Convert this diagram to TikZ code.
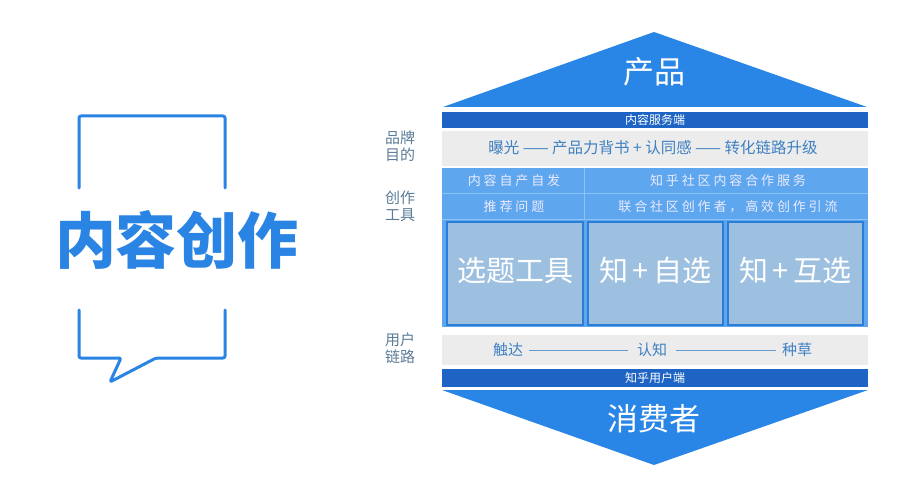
\documentclass[tikz,border=0pt]{standalone}
\usepackage{fontspec}
\setmainfont{Noto Sans CJK SC}
\newfontfamily\cjk{Noto Sans CJK SC}
\newfontfamily\cjkbold{Noto Sans CJK SC Black}
\definecolor{triblue}{HTML}{2A86E6}
\definecolor{darkband}{HTML}{1D64C4}
\definecolor{midblue}{HTML}{5EA6EE}
\definecolor{rowline}{HTML}{8CC2F5}
\definecolor{boxfill}{HTML}{9DC0E0}
\definecolor{boxedge}{HTML}{2A7ED8}
\definecolor{grayband}{HTML}{ECECEC}
\definecolor{graytext}{HTML}{3F80C2}
\definecolor{labeltext}{HTML}{5C7C98}
\definecolor{bubble}{HTML}{2A84E4}
\tikzset{
  bandtext/.style={text=white, font=\cjk\fontsize{12}{12}\selectfont, inner sep=0pt},
  rowtext/.style={text=white!92!blue, font=\cjk\fontsize{13}{13}\selectfont\addfontfeature{LetterSpace=22}, inner sep=0pt},
  bigtext/.style={text=white, font=\cjk\fontsize{29}{29}\selectfont, inner sep=0pt},
  graytxt/.style={text=graytext, font=\cjk\fontsize{15.5}{15.5}\selectfont, inner sep=0pt},
  sidelabel/.style={text=labeltext, font=\cjk\fontsize{15}{17}\selectfont, align=center, inner sep=0pt},
  toolbox/.style={draw=boxedge, line width=2pt, fill=boxfill},
}
\begin{document}
\begin{tikzpicture}[x=1pt,y=-1pt]
\useasboundingbox[fill=white] (0,0) rectangle (922,500);

% speech bubble
\draw[bubble, line width=3pt, line cap=round, line join=round, rounded corners=2pt]
  (79,188) -- (79,116) -- (225,116) -- (225,188);
\draw[bubble, line width=3pt, line cap=round, line join=round, rounded corners=2pt]
  (79,310) -- (79,358) -- (121,358) -- (110,382) -- (156,358) -- (225,358) -- (225,310);
\node[text=bubble, font=\cjkbold\fontsize{61}{61}\selectfont, inner sep=0pt] (title) at (177,240) {内容创作};

% side labels
\node[sidelabel] (lab1) at (400,146) {品牌\\目的};
\node[sidelabel] (lab2) at (400,206) {创作\\工具};
\node[sidelabel] (lab3) at (400,348) {用户\\链路};

% top triangle
\fill[triblue] (443,107) -- (654,32) -- (867,107) -- cycle;
\node[bigtext, font=\cjk\fontsize{31}{31}\selectfont] (prod) at (654,72) {产品};

% dark band top
\fill[darkband] (442,112) rectangle (868,128);
\node[bandtext] (serv) at (655,120) {内容服务端};

% gray band 1
\fill[grayband] (442,131) rectangle (868,166);
\node[graytxt] (brand) at (653,148) {曝光 —— 产品力背书 + 认同感 —— 转化链路升级};

% blue region
\fill[midblue] (442,168) rectangle (868,327);
\draw[rowline, line width=1pt] (442,193.5) -- (868,193.5);
\draw[rowline, line width=1pt] (442,220) -- (868,220);
\draw[rowline, line width=1pt] (584.5,168) -- (584.5,220);
\node[rowtext] (r1a) at (514,181) {内容自产自发};
\node[rowtext] (r1b) at (728,181) {知乎社区内容合作服务};
\node[rowtext] (r2a) at (514,207) {推荐问题};
\node[rowtext] (r2b) at (728,207) {联合社区创作者，高效创作引流};

\node[toolbox, minimum width=136pt, minimum height=103pt, inner sep=0pt] (b1) at (515,273.5) {};
\node[toolbox, minimum width=135pt, minimum height=103pt, inner sep=0pt] (b2) at (655.5,273.5) {};
\node[toolbox, minimum width=135pt, minimum height=103pt, inner sep=0pt] (b3) at (795.5,273.5) {};
\node[bigtext] (t1) at (b1.center) [yshift=3pt] {选题工具};
\node[bigtext] (t2) at (b2.center) [yshift=3pt] {知\,+\,自选};
\node[bigtext] (t3) at (b3.center) [yshift=3pt] {知\,+\,互选};

% gray band 2
\fill[grayband] (442,335) rectangle (868,365);
\node[graytxt, font=\cjk\fontsize{15}{15}\selectfont] (reach) at (508,350) {触达};
\node[graytxt, font=\cjk\fontsize{15}{15}\selectfont] (know) at (652,350) {认知};
\node[graytxt, font=\cjk\fontsize{15}{15}\selectfont] (grass) at (797,350) {种草};
\draw[graytext!80, line width=0.8pt] ([xshift=6pt]reach.east) -- ([xshift=-9pt]know.west);
\draw[graytext!80, line width=0.8pt] ([xshift=9pt]know.east) -- ([xshift=-6pt]grass.west);

% dark band bottom
\fill[darkband] (442,369) rectangle (868,387);
\node[bandtext] (user) at (655,378) {知乎用户端};

% bottom triangle
\fill[triblue] (442,390) -- (868,390) -- (654,465) -- cycle;
\node[bigtext, font=\cjk\fontsize{31}{31}\selectfont] (cons) at (654,419) {消费者};
\end{tikzpicture}
\end{document}
